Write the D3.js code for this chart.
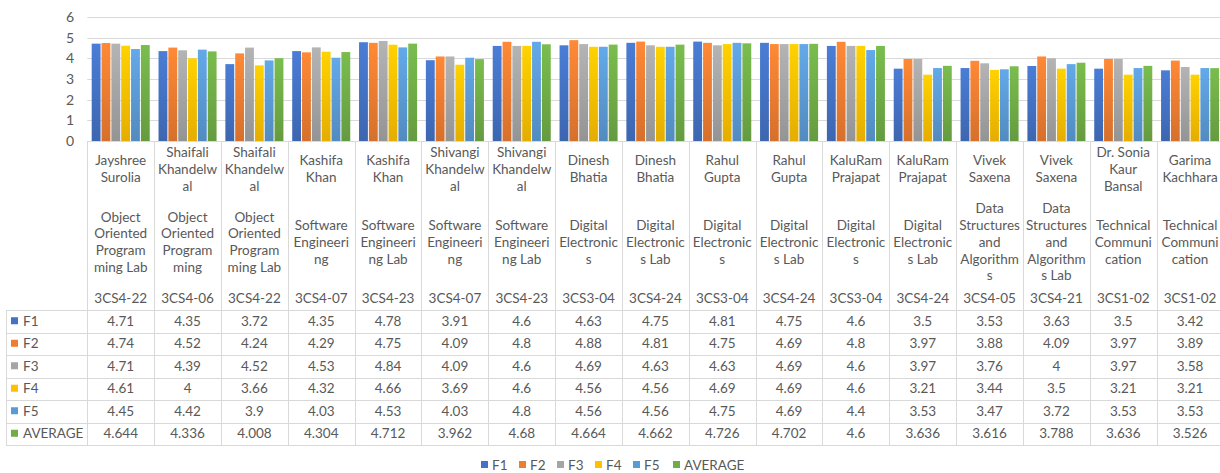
<!DOCTYPE html>
<html>
<head>
<meta charset="utf-8">
<script src="https://cdn.jsdelivr.net/npm/d3@7"></script>
<style>
  body { margin: 0; background: #fff; }
  text { font-family: Lato, "Open Sans", sans-serif; fill: #595959; }
</style>
</head>
<body>
<div id="chart"></div>
<script>
var width = 1220;
var height = 473;

// teacher / subject / code per column ("\n" = wrapped line as in the sheet)
var teachers = ['Jayshree\nSurolia', 'Shaifali\nKhandelw\nal', 'Shaifali\nKhandelw\nal', 'Kashifa\nKhan',
  'Kashifa\nKhan', 'Shivangi\nKhandelw\nal', 'Shivangi\nKhandelw\nal', 'Dinesh\nBhatia', 'Dinesh\nBhatia',
  'Rahul\nGupta', 'Rahul\nGupta', 'KaluRam\nPrajapat', 'KaluRam\nPrajapat', 'Vivek\nSaxena', 'Vivek\nSaxena',
  'Dr. Sonia\nKaur\nBansal', 'Garima\nKachhara'];
var subjects = ['Object\nOriented\nProgram\nming Lab', 'Object\nOriented\nProgram\nming', 'Object\nOriented\nProgram\nming Lab',
  'Software\nEngineeri\nng', 'Software\nEngineeri\nng Lab', 'Software\nEngineeri\nng', 'Software\nEngineeri\nng Lab',
  'Digital\nElectronic\ns', 'Digital\nElectronic\ns Lab', 'Digital\nElectronic\ns', 'Digital\nElectronic\ns Lab',
  'Digital\nElectronic\ns', 'Digital\nElectronic\ns Lab', 'Data\nStructures\nand\nAlgorithm\ns', 'Data\nStructures\nand\nAlgorithm\ns Lab',
  'Technical\nCommuni\ncation', 'Technical\nCommuni\ncation'];
var codes = ['3CS4-22', '3CS4-06', '3CS4-22', '3CS4-07', '3CS4-23', '3CS4-07', '3CS4-23', '3CS3-04', '3CS4-24',
  '3CS3-04', '3CS4-24', '3CS3-04', '3CS4-24', '3CS4-05', '3CS4-21', '3CS1-02', '3CS1-02'];

var seriesNames = ['F1', 'F2', 'F3', 'F4', 'F5', 'AVERAGE'];
var seriesColors = ['#4472C4', '#ED7D31', '#A5A5A5', '#FFC000', '#5B9BD5', '#70AD47'];

var f1 = [4.71, 4.35, 3.72, 4.35, 4.78, 3.91, 4.6, 4.63, 4.75, 4.81, 4.75, 4.6, 3.5, 3.53, 3.63, 3.5, 3.42];
var f2 = [4.74, 4.52, 4.24, 4.29, 4.75, 4.09, 4.8, 4.88, 4.81, 4.75, 4.69, 4.8, 3.97, 3.88, 4.09, 3.97, 3.89];
var f3 = [4.71, 4.39, 4.52, 4.53, 4.84, 4.09, 4.6, 4.69, 4.63, 4.63, 4.69, 4.6, 3.97, 3.76, 4, 3.97, 3.58];
var f4 = [4.61, 4, 3.66, 4.32, 4.66, 3.69, 4.6, 4.56, 4.56, 4.69, 4.69, 4.6, 3.21, 3.44, 3.5, 3.21, 3.21];
var f5 = [4.45, 4.42, 3.9, 4.03, 4.53, 4.03, 4.8, 4.56, 4.56, 4.75, 4.69, 4.4, 3.53, 3.47, 3.72, 3.53, 3.53];
var average = [4.644, 4.336, 4.008, 4.304, 4.712, 3.962, 4.68, 4.664, 4.662, 4.726, 4.702, 4.6, 3.636, 3.616, 3.788, 3.636, 3.526];

var yTicks = [0, 1, 2, 3, 4, 5, 6];

var seriesValues = [f1, f2, f3, f4, f5, average];

var plotLeft = 87.3;
var plotRight = 1223.5;
var tableLeft = 6;
var rowTop = 310;
var rowH = 22.5;
var gridColor = '#d9d9d9';

var svg = d3.select('#chart')
  .append('svg')
  .attr('width', width)
  .attr('height', height);

var defs = svg.append('defs');
seriesColors.forEach(function(c, i) {
  var g = defs.append('linearGradient')
    .attr('id', 'grad' + i)
    .attr('x1', 0).attr('y1', 0).attr('x2', 0).attr('y2', 1);
  g.append('stop').attr('offset', '0%').attr('stop-color', d3.color(c).brighter(0.25));
  g.append('stop').attr('offset', '100%').attr('stop-color', d3.color(c).darker(0.3));
});

var x0 = d3.scaleBand()
  .domain(d3.range(codes.length))
  .range([plotLeft, plotRight])
  .padding(0);

var x1 = d3.scaleBand()
  .domain(d3.range(seriesNames.length))
  .range([4.4, x0.bandwidth() - 4.4])
  .paddingInner(0.1);

var y = d3.scaleLinear()
  .domain([0, 6])
  .range([141, 17]);

// gridlines
svg.append('g')
  .selectAll('line')
  .data(yTicks)
  .enter()
  .append('line')
  .attr('x1', plotLeft)
  .attr('x2', width)
  .attr('y1', function(d) { return Math.round(y(d)) + 0.5; })
  .attr('y2', function(d) { return Math.round(y(d)) + 0.5; })
  .style('stroke', gridColor)
  .style('stroke-width', 1);

// y axis labels
var yAxis = d3.axisLeft(y).tickValues(yTicks).tickFormat(d3.format('d')).tickSize(0).tickPadding(0);
var yg = svg.append('g')
  .attr('transform', 'translate(74,0)')
  .call(yAxis);
yg.select('.domain').remove();
yg.selectAll('text')
  .style('font-size', '14px')
  .style('fill', '#595959')
  .style('font-family', 'Lato, "Open Sans", sans-serif');

// bars
var groups = svg.append('g')
  .selectAll('g')
  .data(codes)
  .enter()
  .append('g')
  .attr('transform', function(d, i) { return 'translate(' + x0(i) + ',0)'; });

groups.selectAll('rect')
  .data(function(d, i) {
    return seriesValues.map(function(vals, s) { return { s: s, v: vals[i] }; });
  })
  .enter()
  .append('rect')
  .attr('x', function(d) { return x1(d.s); })
  .attr('width', x1.bandwidth())
  .attr('y', function(d) { return y(d.v); })
  .attr('height', function(d) { return y(0) - y(d.v); })
  .style('fill', function(d) { return 'url(#grad' + d.s + ')'; });

// category label area and table lines
var lines = svg.append('g').style('stroke', gridColor).style('stroke-width', 1);
d3.range(codes.length + 1).forEach(function(i) {
  var xx = i < codes.length ? x0(i) : plotRight;
  xx = Math.round(xx) + 0.5;
  lines.append('line')
    .attr('x1', xx).attr('x2', xx)
    .attr('y1', y(0)).attr('y2', rowTop + rowH * seriesNames.length);
});
lines.append('line')
  .attr('x1', tableLeft + 0.5).attr('x2', tableLeft + 0.5)
  .attr('y1', rowTop).attr('y2', rowTop + rowH * seriesNames.length);
d3.range(seriesNames.length + 1).forEach(function(r) {
  var yy = Math.round(rowTop + r * rowH) + 0.5;
  lines.append('line')
    .attr('x1', tableLeft).attr('x2', width)
    .attr('y1', yy).attr('y2', yy);
});

// multi-line centred text helper
function block(sel, str, cx, cy, lh) {
  var parts = str.split('\n');
  var t = sel.append('text')
    .attr('text-anchor', 'middle')
    .style('font-size', '13.5px');
  parts.forEach(function(p, k) {
    t.append('tspan')
      .attr('x', cx)
      .attr('y', cy + (k - (parts.length - 1) / 2) * lh)
      .attr('dy', '0.35em')
      .text(p);
  });
}

var labels = svg.append('g');
codes.forEach(function(c, i) {
  var cx = x0(i) + x0.bandwidth() / 2;
  block(labels, teachers[i], cx, 169, 17);
  block(labels, subjects[i], cx, 242, 16.8);
  block(labels, c, cx, 298, 17);
});

// data table rows
var table = svg.append('g');
seriesNames.forEach(function(name, s) {
  var cy = rowTop + s * rowH + rowH / 2;
  table.append('rect')
    .attr('x', 11).attr('y', cy - 4)
    .attr('width', 7).attr('height', 7)
    .style('fill', seriesColors[s]);
  table.append('text')
    .attr('x', 23).attr('y', cy)
    .attr('dy', '0.35em')
    .style('font-size', '13.5px')
    .text(name);
  seriesValues[s].forEach(function(v, i) {
    table.append('text')
      .attr('x', x0(i) + x0.bandwidth() / 2)
      .attr('y', cy)
      .attr('dy', '0.35em')
      .attr('text-anchor', 'middle')
      .style('font-size', '13.5px')
      .text(v);
  });
});

// legend
var legendX = [481, 519, 557, 595, 633, 673];
var legend = svg.append('g');
seriesNames.forEach(function(name, s) {
  legend.append('rect')
    .attr('x', legendX[s]).attr('y', 461)
    .attr('width', 7).attr('height', 7)
    .style('fill', seriesColors[s]);
  legend.append('text')
    .attr('x', legendX[s] + 11).attr('y', 465)
    .attr('dy', '0.35em')
    .style('font-size', '13.5px')
    .text(name);
});
</script>
</body>
</html>
